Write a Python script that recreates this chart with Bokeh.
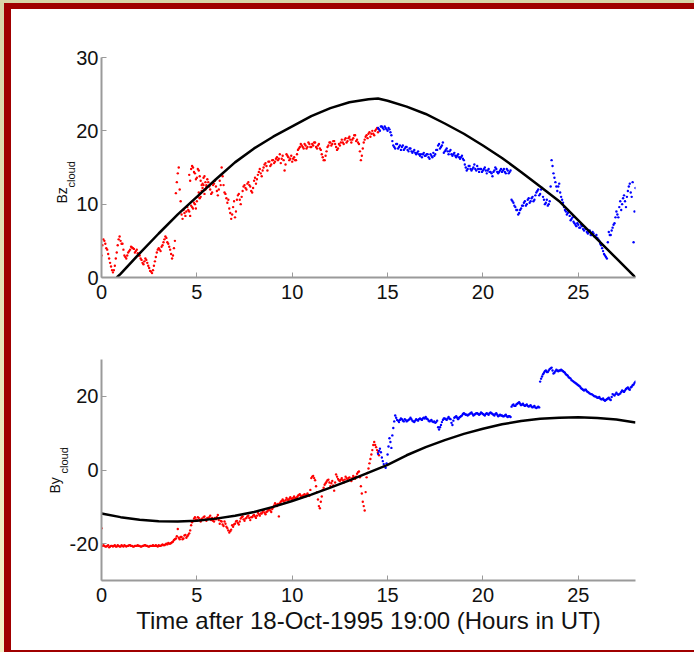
import numpy as np
from bokeh.plotting import figure
from bokeh.layouts import column
from bokeh.models import Range1d, FixedTicker, Title, CustomJSTickFormatter
from bokeh.embed import file_html
from bokeh.resources import INLINE

# ---------------- data ----------------
x_ticks = [0, 5, 10, 15, 20, 25]
bz_ticks = [0, 10, 20, 30]
by_ticks = [-20, 0, 20]
x_label = "Time after 18-Oct-1995 19:00 (Hours in UT)"

# Bz fitted curve (black)
bz_fit_t = [0.8, 1, 2, 3, 4, 5, 6, 7, 8, 9, 10, 11, 12, 13, 14, 14.5, 15, 16, 17, 18,
            19, 20, 21, 22, 23, 24, 25, 26, 27, 28]
bz_fit_v = [0.0, 0.5, 3.3, 6.0, 8.6, 11.0, 13.4, 15.7, 17.6, 19.2, 20.6, 22.0, 23.1, 23.9,
            24.3, 24.4, 24.1, 23.3, 22.3, 21.0, 19.6, 18.0, 16.3, 14.4, 12.4, 10.4, 7.8,
            5.2, 2.6, 0.0]

# By fitted curve (black)
by_fit_t = [0, 1, 2, 3, 4, 5, 6, 7, 8, 9, 10, 11, 12, 13, 14, 15, 16, 17, 18, 19, 20,
            21, 22, 23, 24, 25, 26, 27, 28]
by_fit_v = [-11.8, -12.8, -13.5, -13.9, -14.0, -13.8, -13.2, -12.4, -11.4, -10.0, -8.4,
            -6.7, -4.8, -2.8, -0.7, 1.4, 4.0, 6.2, 8.1, 9.8, 11.2, 12.4, 13.3, 13.9, 14.2,
            14.3, 14.1, 13.7, 12.9]

# Bz measured, red part (t = 0.0 .. 14.5 h, every 0.1 h)
bz_red_v = [3.0, 5.2, 4.6, 3.8, 2.6, 1.5, 0.7, 1.6, 3.4, 5.2,
            5.0, 4.6, 3.0, 2.6, 3.4, 3.8, 4.1, 3.9, 3.6, 3.3,
            3.0, 2.4, 1.8, 2.6, 2.0, 1.3, 0.8, 1.0, 2.2, 3.4,
            4.0, 3.6, 4.4, 5.2, 5.4, 4.6, 3.8, 2.6, 4.0, 11.5,
            14.2, 12.0, 8.6, 9.2, 8.4, 9.6, 9.0, 9.8, 9.4, 10.0,
            10.4, 11.6, 11.0, 12.2, 11.4, 12.4, 13.0, 12.0, 11.6, 12.8,
            12.4, 11.2, 13.2, 15.0, 12.6, 11.4, 10.2, 9.4, 8.0, 9.6,
            8.2, 10.6, 11.4, 10.0, 11.8, 12.6, 12.0, 13.0, 12.4, 11.6,
            13.2, 12.8, 14.0, 14.8, 13.8, 15.0, 15.6, 14.6, 15.8, 15.4,
            16.0, 15.8, 16.4, 16.2, 15.6, 16.6, 14.6, 16.8, 16.4, 16.2,
            15.8, 16.4, 16.0, 17.4, 17.8, 18.0, 17.6, 18.0, 17.8, 18.2,
            17.8, 18.0, 18.4, 17.6, 18.2, 17.4, 16.4, 16.0, 17.2, 18.0,
            18.4, 18.2, 18.6, 17.8, 17.6, 18.0, 18.8, 18.2, 19.0, 18.6,
            19.2, 18.4, 19.0, 19.4, 18.8, 18.2, 16.0, 17.6, 18.8, 19.4,
            19.6, 19.2, 20.0, 19.4, 20.2, 19.8]
# Bz red, samples in between (t = 0.05 .. 14.55 h)
bz_red_b = [4.4, 5.0, 4.0, 3.2, 2.0, 1.0, 1.0, 2.6, 4.4, 5.6,
            4.6, 3.8, 2.8, 3.0, 3.6, 4.2, 4.0, 3.4, 3.8, 3.0,
            2.6, 2.0, 2.2, 2.4, 1.6, 0.9, 0.6, 1.6, 2.8, 3.8,
            3.8, 4.2, 4.8, 5.6, 4.8, 4.2, 3.2, 3.0, 5.0, 13.0,
            15.0, 10.4, 8.0, 8.8, 9.0, 9.2, 8.4, 9.6, 10.2, 9.4,
            11.0, 10.8, 11.8, 12.6, 12.0, 13.4, 12.4, 11.4, 12.6, 13.2,
            11.8, 12.0, 12.6, 13.8, 11.6, 10.8, 10.6, 8.8, 8.6, 10.4,
            9.0, 11.2, 10.6, 11.0, 12.4, 12.2, 12.8, 12.6, 11.8, 12.2,
            13.6, 13.4, 14.4, 14.2, 14.6, 15.4, 15.2, 15.8, 15.2, 16.0,
            15.6, 16.2, 16.0, 16.8, 16.2, 16.0, 15.4, 16.6, 16.0, 16.6,
            16.2, 16.0, 16.8, 17.6, 18.2, 17.8, 18.2, 17.6, 18.4, 17.8,
            18.2, 18.4, 17.8, 18.0, 17.6, 16.8, 16.0, 16.6, 17.8, 18.4,
            18.0, 18.6, 18.2, 17.4, 18.2, 18.4, 18.4, 18.8, 18.4, 19.0,
            18.8, 18.8, 19.4, 18.6, 18.4, 17.2, 16.6, 18.4, 19.2, 19.0,
            19.8, 19.6, 19.6, 20.0, 20.4, 20.2]
# second red cluster around 4.6 .. 5.5 h
bz_red2_t = [4.6, 4.65, 4.7, 4.75, 4.8, 4.85, 4.9, 4.95, 5.0, 5.05, 5.1, 5.15, 5.2,
             5.25, 5.3, 5.35, 5.4, 5.45, 5.5]
bz_red2_v = [14.0, 13.2, 14.8, 15.2, 15.0, 14.4, 14.2, 13.4, 13.6, 14.8, 14.6, 13.8,
             13.2, 12.6, 12.8, 13.6, 13.8, 13.0, 12.6]

# Bz measured, blue part (t = 14.5 .. 28.0 h, every 0.1 h)
bz_blue_v = [20.4, 20.0, 20.6, 20.2, 20.4,
             20.0, 20.2, 19.4, 18.0, 17.6, 18.2, 17.8, 17.4, 18.0, 17.6,
             17.8, 17.2, 17.6, 17.0, 17.4, 16.8, 17.2, 16.6, 16.4, 17.0,
             16.6, 16.8, 16.2, 16.6, 17.0, 16.8, 17.4, 18.2, 17.8, 18.4,
             17.2, 17.6, 16.8, 17.4, 16.6, 17.0, 16.4, 16.8, 16.2, 16.6,
             16.0, 15.0, 14.8, 15.2, 14.6, 15.0, 14.8, 15.2, 14.4, 14.8,
             14.6, 15.0, 14.2, 14.8, 14.4, 13.8, 14.6, 14.8, 14.2, 14.6,
             14.4, 14.8, 14.2, 14.6, 14.4, 10.6, 10.2, 9.6, 9.2, 8.8,
             9.4, 9.8, 10.4, 10.0, 10.8, 10.4, 11.0, 10.6, 11.6, 12.0,
             11.4, 12.2, 10.6, 10.2, 9.8, 10.4, 16.0, 14.2, 13.0, 11.8,
             12.8, 11.0, 10.2, 9.2, 8.6, 9.0, 7.8, 8.2, 7.4, 7.0,
             7.2, 6.8, 7.0, 6.4, 6.6, 6.0, 6.4, 5.8, 6.0, 5.6,
             5.4, 5.0, 4.4, 3.6, 3.0, 2.6, 6.2, 5.8, 6.8, 7.4,
             9.0, 8.2, 10.4, 10.0, 11.2, 9.6, 11.8, 12.8, 11.0, 4.8,
             12.2]
# Bz blue, samples in between (t = 14.55 .. 27.95 h)
bz_blue_b = [20.2, 20.6, 20.4, 20.6, 20.2,
             20.4, 19.8, 18.6, 17.8, 18.2, 17.6, 18.0, 17.8, 17.4, 17.8,
             17.4, 17.6, 17.2, 17.2, 17.0, 17.0, 16.8, 16.8, 16.8, 16.6,
             16.8, 16.4, 16.8, 16.4, 16.6, 17.4, 18.0, 17.6, 18.0, 17.0,
             17.4, 17.2, 17.2, 16.8, 16.8, 16.6, 16.6, 16.4, 16.4, 16.2,
             15.4, 14.6, 15.2, 14.8, 14.8, 15.4, 14.6, 14.8, 14.8, 14.4,
             14.8, 14.6, 14.6, 14.4, 14.2, 14.4, 15.0, 14.4, 14.4, 14.8,
             14.6, 14.4, 14.8, 14.2, 14.6, 10.4, 9.8, 9.2, 8.6, 9.2,
             9.8, 10.2, 9.8, 10.6, 10.2, 10.8, 10.4, 11.2, 11.8, 11.2,
             12.0, 11.0, 10.0, 10.6, 10.0, 12.4, 15.2, 13.6, 12.4, 12.4,
             11.6, 10.6, 9.6, 9.0, 8.8, 8.4, 8.0, 7.6, 7.2, 7.4,
             6.8, 7.2, 6.6, 6.8, 6.2, 6.2, 5.8, 6.2, 5.6, 5.8,
             5.2, 4.6, 4.0, 3.2, 2.8, 4.8, 5.8, 6.4, 7.2, 8.2,
             8.6, 9.6, 9.2, 10.8, 10.4, 11.0, 12.4, 11.6, 13.0, 9.0]

# By measured, red part (t = 0.0 .. 14.5 h)
by_red_v = [-15.8, -20.4, -20.8, -20.6, -21.0, -20.6, -20.8, -20.4, -20.8, -20.6,
            -20.8, -20.6, -20.4, -20.8, -20.6, -20.4, -20.6, -20.8, -20.6, -20.4,
            -20.6, -20.8, -20.6, -20.4, -20.6, -20.8, -20.6, -20.4, -20.6, -20.6,
            -20.4, -20.6, -20.2, -20.4, -20.0, -19.8, -20.0, -19.6, -19.0, -18.6,
            -16.0, -18.8, -18.2, -18.6, -17.6, -18.0, -17.2, -15.0, -13.8, -12.8,
            -13.6, -13.0, -14.0, -13.4, -12.6, -13.8, -13.2, -12.4, -13.0, -14.0,
            -13.4, -12.2, -14.6, -14.0, -15.2, -14.6, -15.8, -17.0, -16.2, -15.4,
            -14.6, -13.8, -14.8, -13.2, -12.6, -13.8, -13.0, -12.4, -13.6, -12.8,
            -12.2, -13.0, -11.6, -12.4, -11.8, -11.0, -12.0, -11.2, -10.6, -11.4,
            -10.2, -9.0, -9.8, -12.6, -8.6, -8.0, -8.8, -7.6, -8.2, -7.4,
            -8.0, -7.2, -7.8, -7.0, -6.6, -7.4, -6.8, -7.2, -6.4, -7.0,
            -2.2, -1.6, -2.8, -6.0, -9.8, -8.6, -5.4, -4.0, -3.2, -2.6,
            -4.4, -3.0, -5.6, -1.2, -2.4, -3.0, -2.2, -3.4, -1.8, -2.6,
            -2.0, -3.0, -1.6, -2.4, -1.0, -0.4, -4.4, -8.6, -11.0, -2.0,
            0.4, 3.0, 5.4, 7.6, 6.2, 4.8]
# By red, samples in between (t = 0.05 .. 14.55 h)
by_red_b = [-20.6, -20.6, -20.8, -20.4, -20.8, -20.6, -20.6, -20.8, -20.4, -20.8,
            -20.4, -20.8, -20.6, -20.6, -20.4, -20.6, -20.8, -20.6, -20.6, -20.6,
            -20.8, -20.6, -20.4, -20.6, -20.8, -20.6, -20.6, -20.6, -20.4, -20.8,
            -20.6, -20.4, -20.4, -20.2, -20.2, -20.0, -19.8, -19.4, -18.8, -18.0,
            -18.4, -18.2, -18.8, -17.8, -18.4, -17.6, -16.4, -14.2, -13.2, -13.4,
            -12.8, -13.6, -13.2, -12.8, -13.4, -13.0, -12.8, -13.6, -13.8, -13.0,
            -12.8, -13.6, -13.8, -14.8, -14.0, -15.4, -16.4, -16.6, -15.0, -14.8,
            -14.0, -14.4, -14.0, -12.8, -13.4, -13.2, -12.6, -13.0, -12.8, -12.4,
            -12.6, -12.4, -12.0, -11.8, -11.4, -11.6, -11.4, -10.8, -11.0, -10.6,
            -9.6, -9.4, -9.2, -9.0, -8.4, -8.4, -8.2, -8.0, -7.8, -7.8,
            -7.6, -7.6, -7.4, -6.8, -7.0, -7.0, -6.6, -6.8, -6.8, -5.4,
            -1.8, -2.2, -4.4, -8.0, -10.4, -7.2, -4.8, -3.6, -2.8, -3.4,
            -3.6, -4.2, -3.4, -1.8, -2.8, -2.6, -2.8, -2.6, -2.2, -2.2,
            -2.6, -2.2, -2.0, -1.8, -0.6, -2.0, -6.4, -9.8, -6.0, -0.8,
            1.8, 4.2, 6.8, 6.8, 5.4, 4.0]

# By measured, blue part (t = 14.5 .. 28.0 h)
by_blue_v = [4.4, 5.8, 3.4, 1.6, 0.6,
             4.2, 8.6, 6.0, 11.4, 14.8, 13.6, 13.0, 14.0, 13.4, 13.8,
             13.2, 13.6, 14.2, 13.4, 13.0, 13.8, 13.4, 14.0, 13.6, 14.2,
             14.4, 13.8, 13.2, 13.6, 13.0, 12.8, 13.4, 11.0, 12.2, 13.6,
             14.0, 13.6, 14.4, 13.8, 12.2, 14.2, 14.6, 13.8, 14.4, 14.8,
             15.4, 15.0, 14.8, 15.2, 15.6, 14.8, 15.2, 15.4, 15.0, 15.6,
             15.2, 14.8, 15.4, 15.0, 15.6, 15.2, 14.8, 15.4, 14.6, 15.0,
             14.8, 14.6, 15.0, 14.4, 14.6, 17.2, 17.8, 17.4, 18.0, 18.4,
             17.6, 18.0, 17.4, 17.8, 17.2, 17.6, 17.0, 17.4, 16.8, 17.2,
             24.0, 25.4, 26.4, 27.0, 26.6, 27.4, 27.8, 26.2, 26.8, 27.0,
             27.0, 27.2, 26.8, 26.4, 25.8, 25.2, 24.8, 24.2, 23.8, 23.4,
             23.0, 22.6, 22.0, 21.6, 21.8, 21.2, 20.8, 20.6, 20.2, 20.0,
             19.6, 19.8, 19.2, 19.4, 18.8, 19.2, 19.6, 19.0, 20.6, 20.2,
             21.0, 20.4, 20.8, 21.6, 21.2, 22.0, 22.4, 21.8, 22.6, 23.2,
             24.0]
# By blue, samples in between (t = 14.55 .. 27.95 h)
by_blue_b = [5.2, 4.8, 2.4, 1.0, 1.8,
             6.4, 7.6, 9.4, 13.2, 14.2, 13.4, 13.6, 13.8, 13.2, 13.6,
             13.4, 13.8, 13.8, 13.2, 13.4, 13.6, 13.8, 13.8, 14.0, 14.0,
             14.0, 13.4, 13.4, 13.2, 13.2, 13.0, 11.6, 11.6, 13.0, 14.0,
             13.8, 14.0, 14.0, 12.8, 13.4, 14.4, 14.2, 14.2, 14.6, 15.2,
             15.2, 15.0, 15.0, 15.4, 15.2, 15.0, 15.4, 15.2, 15.2, 15.4,
             15.0, 15.2, 15.2, 15.4, 15.4, 15.0, 15.2, 15.0, 14.8, 14.8,
             14.6, 14.8, 14.6, 14.6, 14.4, 17.6, 17.4, 17.8, 18.2, 18.0,
             17.8, 17.6, 17.6, 17.4, 17.4, 17.2, 17.2, 17.0, 17.0, 17.0,
             24.8, 26.0, 26.8, 26.6, 27.0, 27.6, 27.0, 26.4, 27.2, 26.8,
             27.0, 27.0, 26.6, 26.0, 25.6, 25.0, 24.4, 24.0, 23.6, 23.2,
             22.8, 22.2, 21.8, 21.8, 21.4, 21.0, 20.6, 20.4, 20.0, 19.8,
             19.6, 19.4, 19.2, 19.0, 19.0, 19.4, 19.2, 19.8, 20.4, 20.6,
             20.6, 20.6, 21.2, 21.4, 21.6, 22.2, 22.0, 22.4, 23.0, 23.6]

red_t = np.round(np.arange(0, 146) * 0.1, 2)
red_tb = np.round(0.05 + np.arange(0, 146) * 0.1, 2)
blue_t = np.round(14.5 + np.arange(0, 136) * 0.1, 2)
blue_tb = np.round(14.55 + np.arange(0, 135) * 0.1, 2)

FONT = "Liberation Sans"
RED = "#ff0000"
BLUE = "#0000ff"
AXIS_GREY = "#9a9a9a"
DOT = 2.4


def style(p, yticks, show_xlabel):
    p.xgrid.visible = False
    p.ygrid.visible = False
    p.outline_line_color = None
    p.background_fill_color = "white"
    p.border_fill_color = "white"
    p.xaxis.ticker = FixedTicker(ticks=x_ticks)
    p.yaxis.ticker = FixedTicker(ticks=yticks)
    p.yaxis.formatter = CustomJSTickFormatter(code="return tick.toString();")
    for ax in (p.xaxis[0], p.yaxis[0]):
        ax.axis_line_color = AXIS_GREY
        ax.axis_line_width = 2
        ax.major_tick_line_color = AXIS_GREY
        ax.major_tick_in = 5
        ax.major_tick_out = 0
        ax.minor_tick_line_color = None
        ax.major_label_text_font = FONT
        ax.major_label_text_font_size = "20px"
        ax.major_label_text_color = "#111111"
    p.xaxis.major_label_standoff = 7
    p.yaxis.major_label_standoff = 3
    if show_xlabel:
        p.xaxis.axis_label = x_label
        p.xaxis.axis_label_text_font = FONT
        p.xaxis.axis_label_text_font_size = "24px"
        p.xaxis.axis_label_text_font_style = "normal"
        p.xaxis.axis_label_text_color = "#111111"
        p.xaxis.axis_label_standoff = 2


def side_label(p, main, sub, off_main, off_sub):
    p.add_layout(Title(text=sub, align="left", offset=off_sub, standoff=-6,
                       text_font=FONT, text_font_size="11px", text_font_style="normal",
                       text_color="#111111"), "left")
    p.add_layout(Title(text=main, align="left", offset=off_main, standoff=-9,
                       text_font=FONT, text_font_size="14px", text_font_style="normal",
                       text_color="#111111"), "left")


# ---------------- top panel (Bz) ----------------
top = figure(width=683, height=311, x_range=Range1d(0, 28), y_range=Range1d(0, 30),
             output_backend="svg", toolbar_location=None,
             min_border_left=90, min_border_right=59, min_border_top=48,
             min_border_bottom=43)
style(top, bz_ticks, False)
top.scatter(red_t, bz_red_v, size=DOT, color=RED, line_color=None)
top.scatter(red_tb, bz_red_b, size=DOT, color=RED, line_color=None)
top.scatter(bz_red2_t, bz_red2_v, size=DOT, color=RED, line_color=None)
top.scatter(blue_t, bz_blue_v, size=DOT, color=BLUE, line_color=None)
top.scatter(blue_tb, bz_blue_b, size=DOT, color=BLUE, line_color=None)
top.line(bz_fit_t, bz_fit_v, line_color="black", line_width=2.5)
side_label(top, "Bz", "cloud", 74, 90)

# ---------------- bottom panel (By) ----------------
bot = figure(width=683, height=330, x_range=Range1d(0, 28), y_range=Range1d(-30, 30),
             output_backend="svg", toolbar_location=None,
             min_border_left=90, min_border_right=59, min_border_top=39,
             min_border_bottom=70)
style(bot, by_ticks, True)
bot.scatter(red_t, by_red_v, size=DOT, color=RED, line_color=None)
bot.scatter(red_tb, by_red_b, size=DOT, color=RED, line_color=None)
bot.scatter(blue_t, by_blue_v, size=DOT, color=BLUE, line_color=None)
bot.scatter(blue_tb, by_blue_b, size=DOT, color=BLUE, line_color=None)
bot.line(by_fit_t, by_fit_v, line_color="black", line_width=2.5)
side_label(bot, "By", "cloud", 87, 107)

inner = column(top, bot, width=690, height=649,
               styles={"background-color": "white", "border-style": "solid",
                       "border-color": "#a00000", "border-width": "6px 0px 2px 7px",
                       "box-sizing": "border-box"})
outer = column(inner, width=694, height=652,
               styles={"background": "linear-gradient(#d8d5a8, #f5f2c8)",
                       "padding": "3px 0px 0px 4px", "box-sizing": "border-box"})

open("out.html", "w").write(file_html(outer, INLINE))
